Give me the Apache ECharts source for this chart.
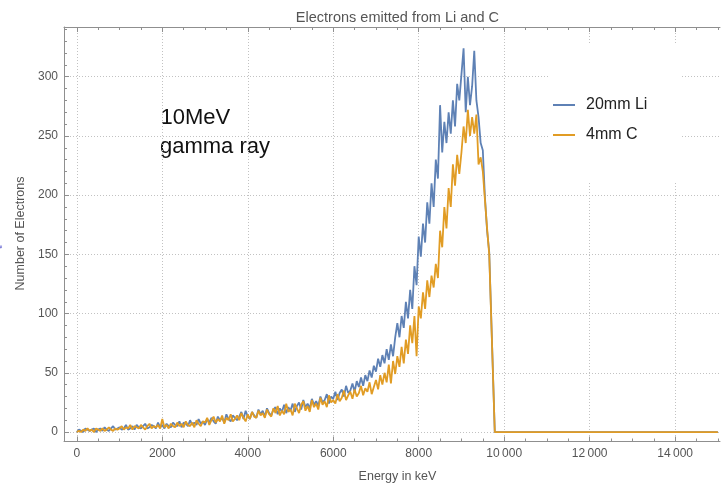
<!DOCTYPE html>
<html>
<head>
<meta charset="utf-8">
<script src="https://cdn.jsdelivr.net/npm/echarts@6/dist/echarts.min.js"></script>
<style>
html,body{margin:0;padding:0;background:#fff;}
#chart{width:721px;height:486px;}
</style>
</head>
<body>
<div id="chart"></div>
<script>
// Energy bins (keV)
const energies = [
  0,50,100,150,200,250,300,350,400,450,500,550,600,650,700,750,800,850,900,950,
  1000,1050,1100,1150,1200,1250,1300,1350,1400,1450,1500,1550,1600,1650,1700,1750,1800,1850,1900,1950,
  2000,2050,2100,2150,2200,2250,2300,2350,2400,2450,2500,2550,2600,2650,2700,2750,2800,2850,2900,2950,
  3000,3050,3100,3150,3200,3250,3300,3350,3400,3450,3500,3550,3600,3650,3700,3750,3800,3850,3900,3950,
  4000,4050,4100,4150,4200,4250,4300,4350,4400,4450,4500,4550,4600,4650,4700,4750,4800,4850,4900,4950,
  5000,5050,5100,5150,5200,5250,5300,5350,5400,5450,5500,5550,5600,5650,5700,5750,5800,5850,5900,5950,
  6000,6050,6100,6150,6200,6250,6300,6350,6400,6450,6500,6550,6600,6650,6700,6750,6800,6850,6900,6950,
  7000,7050,7100,7150,7200,7250,7300,7350,7400,7450,7500,7550,7600,7650,7700,7750,7800,7850,7900,7950,
  8000,8050,8100,8150,8200,8250,8300,8350,8400,8450,8500,8550,8600,8650,8700,8750,8800,8850,8900,8950,
  9000,9050,9100,9150,9200,9250,9300,9350,9400,9450,9500,9550,9600,9650,
  9780,15000
];
// 20mm Li (blue)
const liCounts = [
  0,2,1,0,3,2,1,2,3,0,2,3,1,4,2,1,3,5,2,3,
  4,2,3,6,2,3,5,2,6,4,3,5,7,3,4,6,5,3,8,4,
  6,3,7,5,4,8,6,5,9,4,8,7,5,10,6,8,6,11,7,9,
  6,11,8,12,9,7,13,10,12,8,15,11,9,14,12,10,13,17,11,18,
  13,11,17,14,12,19,15,18,13,20,16,14,19,21,15,20,17,23,16,21,
  18,24,17,22,25,19,27,21,24,20,28,23,26,22,30,25,27,32,24,30,
  28,34,27,33,36,30,39,33,35,41,34,43,38,46,39,48,43,52,46,56,
  51,62,55,65,58,70,61,74,64,80,92,80,98,88,110,96,120,104,140,124,
  165,148,176,160,194,176,210,190,230,214,276,236,262,244,270,252,280,258,294,280,
  302,324,270,300,276,292,322,280,266,244,238,198,170,152,
  0,0
];
// 4mm C (orange)
const cCounts = [
  0,1,0,2,1,3,1,2,0,3,2,1,3,1,2,4,2,1,3,2,
  3,5,2,4,3,6,2,5,4,3,6,4,2,5,7,3,5,4,6,3,
  11,4,6,3,7,5,4,8,5,7,4,9,6,5,8,4,10,7,5,9,
  8,12,6,10,13,8,11,9,14,7,12,10,15,9,11,14,10,16,12,9,
  15,11,17,13,12,18,14,16,12,19,15,13,20,16,22,14,18,15,24,17,
  19,14,24,20,16,23,26,18,22,17,27,21,24,19,29,23,26,21,31,25,
  27,24,32,26,29,35,27,31,34,28,36,30,33,39,31,37,34,42,32,38,
  44,36,48,40,50,42,57,41,60,49,64,55,72,58,78,66,90,75,98,64,
  106,96,118,104,128,114,132,122,142,130,170,156,190,172,206,190,226,208,234,218,
  236,258,244,272,250,266,252,268,226,232,220,196,172,150,
  0,0
];
const seriesNames = ['20mm Li', '4mm C'];
const xMajorTicks = [0,2000,4000,6000,8000,10000,12000,14000];
const xMinorTicks = [0,500,1000,1500,2000,2500,3000,3500,4000,4500,5000,5500,6000,6500,7000,7500,8000,8500,9000,9500,10000,10500,11000,11500,12000,12500,13000,13500,14000,14500,15000];
const yMajorTicks = [0,50,100,150,200,250,300];
const yMinorTicks = [0,10,20,30,40,50,60,70,80,90,100,110,120,130,140,150,160,170,180,190,200,210,220,230,240,250,260,270,280,290,300,310,320,330,340];

const FONT = 'Liberation Sans, Arial, Helvetica, sans-serif';
const FRAME = '#8f8f8f';
const GRIDC = '#c2c2c2';

const pair = (arr) => energies.map((e, i) => [e, arr[i]]);
const fmtX = (v) => v >= 10000 ? String(v).slice(0, -3) + '\u2009' + String(v).slice(-3) : String(v);

function xAx(pos, ticks, len, main) {
  return {
    type: 'value', min: -300, max: 15050, position: pos, splitNumber: 8,
    axisLine: { show: main, onZero: false, lineStyle: { color: FRAME, width: 1 } },
    axisTick: { show: true, inside: true, length: len, customValues: ticks, lineStyle: { color: FRAME, width: 1 } },
    axisLabel: main && pos === 'bottom'
      ? { show: true, customValues: xMajorTicks, margin: 6, color: '#555', fontSize: 12, fontFamily: FONT, formatter: fmtX }
      : { show: false },
    splitLine: main && pos === 'bottom'
      ? { show: true, lineStyle: { color: GRIDC, width: 1, type: [1, 2] } }
      : { show: false },
    minorTick: { show: false }, minorSplitLine: { show: false }
  };
}
function yAx(ticks, len, main) {
  return {
    type: 'value', min: -8, max: 342, position: 'left', splitNumber: 7,
    axisLine: { show: main, onZero: false, lineStyle: { color: FRAME, width: 1 } },
    axisTick: { show: true, inside: true, length: len, customValues: ticks, lineStyle: { color: FRAME, width: 1 } },
    axisLabel: main
      ? { show: true, customValues: yMajorTicks, margin: 6, color: '#555', fontSize: 12, fontFamily: FONT }
      : { show: false },
    splitLine: main
      ? { show: true, lineStyle: { color: GRIDC, width: 1, type: [1, 2] } }
      : { show: false },
    minorTick: { show: false }, minorSplitLine: { show: false }
  };
}

const chart = echarts.init(document.getElementById('chart'), null, { renderer: 'canvas' });
chart.setOption({
  animation: false,
  backgroundColor: '#fff',
  grid: { left: 64, top: 27, right: 1, bottom: 44.5, containLabel: false, outerBoundsMode: 'none' },
  xAxis: [
    xAx('bottom', xMajorTicks, 5, true),
    xAx('bottom', xMinorTicks, 3, false),
    xAx('top', xMajorTicks, 5, true),
    xAx('top', xMinorTicks, 3, false)
  ],
  yAxis: [
    yAx(yMajorTicks, 5, true),
    yAx(yMinorTicks, 3, false)
  ],
  legend: {
    data: seriesNames,
    orient: 'vertical',
    left: 548, top: 43,
    padding: [52, 34, 37, 5],
    backgroundColor: '#ffffff',
    icon: 'rect',
    itemWidth: 22, itemHeight: 2,
    itemGap: 10,
    selectedMode: false,
    textStyle: { fontSize: 16, color: '#222', fontFamily: FONT, lineHeight: 20, padding: [0, 0, 0, 6] }
  },
  series: [
    { name: seriesNames[0], type: 'line', xAxisIndex: 0, yAxisIndex: 0, data: pair(liCounts),
      showSymbol: false, symbol: 'none', color: '#5E81B5', lineStyle: { width: 1.8, color: '#5E81B5' }, z: 2 },
    { name: seriesNames[1], type: 'line', xAxisIndex: 0, yAxisIndex: 0, data: pair(cCounts),
      showSymbol: false, symbol: 'none', color: '#E19C24', lineStyle: { width: 1.8, color: '#E19C24' }, z: 3 }
  ],
  graphic: [
    { type: 'text', x: 397.4, y: 18, style: { text: 'Electrons emitted from Li and C', font: '14.5px ' + FONT, fill: '#555', align: 'center', verticalAlign: 'middle' } },
    { type: 'text', x: 397.5, y: 476.5, style: { text: 'Energy in keV', font: '12.5px ' + FONT, fill: '#555', align: 'center', verticalAlign: 'middle' } },
    { type: 'text', x: 20.5, y: 233.5, rotation: Math.PI / 2, style: { text: 'Number of Electrons', font: '12.5px ' + FONT, fill: '#555', align: 'center', verticalAlign: 'middle' } },
    { type: 'text', x: 4, y: 247, rotation: Math.PI / 2, style: { text: '"', font: '9px ' + FONT, fill: '#4b4bc8', align: 'center', verticalAlign: 'middle' } },
    { type: 'text', x: 160.5, y: 118, style: { text: '10MeV', font: '22px ' + FONT, fill: '#111', align: 'left', verticalAlign: 'middle' } },
    { type: 'text', x: 160, y: 147, style: { text: 'gamma ray', font: '22px ' + FONT, fill: '#111', align: 'left', verticalAlign: 'middle' } }
  ]
});
</script>
</body>
</html>
